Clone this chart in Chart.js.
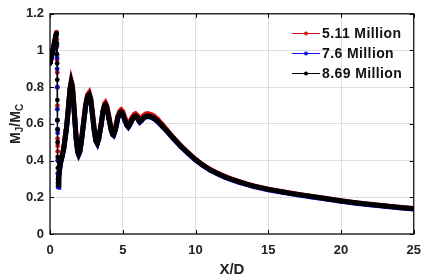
<!DOCTYPE html>
<html>
<head>
<meta charset="utf-8">
<script src="https://cdn.jsdelivr.net/npm/chart.js@4/dist/chart.umd.min.js"></script>
<style>
html,body{margin:0;padding:0;background:#fff;}
#c{display:block;}
</style>
</head>
<body>
<canvas id="c" width="430" height="276"></canvas>
<script>
const seriesLabels = ['5.11 Million', '7.6 Million', '8.69 Million'];
const xTicks = [0, 5, 10, 15, 20, 25];
const yTicks = [0, 0.2, 0.4, 0.6, 0.8, 1, 1.2];
const xLabel = 'X/D';

const xValues = [0, 0.1, 0.2, 0.3, 0.4, 0.45, 0.47, 0.48, 0.49, 0.5,
  0.505, 0.51, 0.52, 0.525, 0.53, 0.54, 0.55, 0.56, 0.6, 0.67,
  0.75, 0.85, 0.95, 1.05, 1.12, 1.2, 1.3, 1.38, 1.46, 1.54,
  1.62, 1.7, 1.8, 1.9, 1.97, 2.05, 2.15, 2.3, 2.45, 2.58,
  2.69, 2.8, 2.92, 3.05, 3.15, 3.25, 3.35, 3.5, 3.65, 3.75,
  3.81, 3.9, 4.05, 4.2, 4.3, 4.37, 4.5, 4.65, 4.8, 4.89,
  5.0, 5.15, 5.28, 5.38, 5.5, 5.65, 5.8, 5.88, 6.0, 6.1,
  6.17, 6.3, 6.45, 6.6, 6.75, 6.9, 7.05, 7.2, 7.4, 7.7,
  8.0, 8.5, 9.0, 9.5, 10, 10.5, 11, 11.5, 12, 12.5,
  13, 13.5, 14, 15, 16, 17, 18, 19, 20, 21,
  22, 23, 24, 25];

const redValues = [0.93, 0.967, 1.005, 1.045, 1.085, 1.10, 1.06, 1.02, 0.95, 0.88,
  0.80, 0.70, 0.52, 0.48, 0.45, 0.40, 0.33, 0.275, 0.315, 0.365,
  0.405, 0.435, 0.475, 0.535, 0.575, 0.635, 0.725, 0.795, 0.835, 0.81,
  0.73, 0.64, 0.525, 0.455, 0.44, 0.455, 0.505, 0.605, 0.705, 0.757,
  0.77, 0.74, 0.66, 0.565, 0.515, 0.50, 0.525, 0.595, 0.675, 0.708,
  0.715, 0.70, 0.64, 0.578, 0.553, 0.548, 0.578, 0.64, 0.67, 0.677,
  0.667, 0.632, 0.607, 0.597, 0.612, 0.637, 0.652, 0.655, 0.647, 0.632,
  0.624, 0.634, 0.647, 0.654, 0.655, 0.652, 0.647, 0.639, 0.625, 0.598,
  0.57, 0.523, 0.48, 0.442, 0.407, 0.377, 0.352, 0.332, 0.314, 0.299,
  0.285, 0.273, 0.262, 0.244, 0.23, 0.217, 0.205, 0.193, 0.181, 0.171,
  0.162, 0.154, 0.146, 0.139];

const blueValues = [0.928, 0.963, 0.998, 1.038, 1.078, 1.09, 1.03, 0.96, 0.90, 0.80,
  0.68, 0.62, 0.57, 0.55, 0.40, 0.33, 0.28, 0.255, 0.30, 0.355,
  0.395, 0.425, 0.465, 0.525, 0.565, 0.625, 0.715, 0.785, 0.82, 0.795,
  0.715, 0.625, 0.515, 0.447, 0.432, 0.447, 0.497, 0.597, 0.697, 0.747,
  0.757, 0.727, 0.647, 0.557, 0.507, 0.492, 0.517, 0.587, 0.667, 0.697,
  0.702, 0.687, 0.627, 0.567, 0.542, 0.537, 0.567, 0.627, 0.657, 0.662,
  0.652, 0.617, 0.592, 0.582, 0.597, 0.622, 0.637, 0.64, 0.632, 0.617,
  0.609, 0.619, 0.632, 0.639, 0.64, 0.637, 0.632, 0.625, 0.612, 0.587,
  0.563, 0.518, 0.476, 0.438, 0.403, 0.373, 0.348, 0.328, 0.31, 0.295,
  0.282, 0.27, 0.259, 0.241, 0.227, 0.214, 0.202, 0.19, 0.178, 0.168,
  0.159, 0.151, 0.143, 0.136];

const blackValues = [0.93, 0.965, 1.00, 1.04, 1.08, 1.095, 1.04, 0.98, 0.93, 0.84,
  0.73, 0.62, 0.57, 0.50, 0.42, 0.36, 0.30, 0.265, 0.31, 0.36,
  0.40, 0.43, 0.47, 0.53, 0.57, 0.63, 0.72, 0.79, 0.825, 0.80,
  0.72, 0.63, 0.52, 0.45, 0.435, 0.45, 0.50, 0.60, 0.70, 0.75,
  0.76, 0.73, 0.65, 0.56, 0.51, 0.495, 0.52, 0.59, 0.67, 0.70,
  0.705, 0.69, 0.63, 0.57, 0.545, 0.54, 0.57, 0.63, 0.66, 0.665,
  0.655, 0.62, 0.595, 0.585, 0.60, 0.625, 0.64, 0.643, 0.635, 0.62,
  0.612, 0.622, 0.635, 0.642, 0.643, 0.64, 0.635, 0.628, 0.615, 0.59,
  0.565, 0.52, 0.478, 0.44, 0.405, 0.375, 0.35, 0.33, 0.312, 0.297,
  0.284, 0.272, 0.261, 0.243, 0.229, 0.216, 0.204, 0.192, 0.18, 0.17,
  0.161, 0.153, 0.145, 0.138];

const seriesColors = ['#e01010', '#1010e8', '#000000'];

function toPoints(ys) { return xValues.map((x, i) => ({x: x, y: ys[i]})); }

const FONT = '"Liberation Sans", Arial, sans-serif';

function makeDataset(label, ys, color, order) {
  return {
    label: label,
    data: toPoints(ys),
    borderColor: color,
    backgroundColor: color,
    borderWidth: 5,
    pointRadius: 2.4,
    pointBorderWidth: 0,
    pointHoverRadius: 2.4,
    tension: 0,
    order: order,
    segment: {
      borderWidth: ctx => (ctx.p0.parsed.x >= 0.45 && ctx.p1.parsed.x <= 0.56) ? 1 : 5
    }
  };
}

const decorPlugin = {
  id: 'decor',
  afterDraw(chart) {
    const ctx = chart.ctx;
    const a = chart.chartArea;
    const xs = chart.scales.x, ys = chart.scales.y;
    ctx.save();
    ctx.strokeStyle = '#000';
    ctx.lineWidth = 1.2;
    ctx.strokeRect(a.left, a.top, a.right - a.left, a.bottom - a.top);
    ctx.lineWidth = 1;
    ctx.beginPath();
    xTicks.forEach(v => {
      const px = Math.round(xs.getPixelForValue(v)) + 0.5;
      ctx.moveTo(px, a.bottom); ctx.lineTo(px, a.bottom - 4);
      ctx.moveTo(px, a.top); ctx.lineTo(px, a.top + 4);
    });
    yTicks.forEach(v => {
      const py = Math.round(ys.getPixelForValue(v)) + 0.5;
      ctx.moveTo(a.left, py); ctx.lineTo(a.left + 4, py);
      ctx.moveTo(a.right, py); ctx.lineTo(a.right - 4, py);
    });
    ctx.stroke();

    ctx.fillStyle = '#222';
    ctx.font = 'bold 15px ' + FONT;
    ctx.textAlign = 'center';
    ctx.textBaseline = 'middle';
    ctx.fillText(xLabel, (a.left + a.right) / 2, 270);

    ctx.save();
    ctx.translate(15, (a.top + a.bottom) / 2);
    ctx.rotate(-Math.PI / 2);
    const parts = [
      {t: 'M', sub: false}, {t: 'J', sub: true}, {t: '/M', sub: false}, {t: 'C', sub: true}
    ];
    const big = 'bold 14px ' + FONT, small = 'bold 10px ' + FONT;
    let total = 0;
    parts.forEach(p => { ctx.font = p.sub ? small : big; p.w = ctx.measureText(p.t).width; total += p.w; });
    let cx = -total / 2;
    ctx.textAlign = 'left';
    ctx.textBaseline = 'alphabetic';
    parts.forEach(p => {
      ctx.font = p.sub ? small : big;
      ctx.fillText(p.t, cx, p.sub ? 8 : 5);
      cx += p.w;
    });
    ctx.restore();

    const rows = [33, 53, 73];
    chart.data.datasets.forEach((ds, i) => {
      const y = rows[i];
      ctx.strokeStyle = ds.borderColor;
      ctx.fillStyle = ds.borderColor;
      ctx.lineWidth = 1;
      ctx.beginPath();
      ctx.moveTo(292, y + 0.5); ctx.lineTo(320, y + 0.5);
      ctx.stroke();
      ctx.beginPath();
      ctx.arc(306, y + 0.5, 2, 0, Math.PI * 2);
      ctx.fill();
      ctx.fillStyle = '#111';
      ctx.font = 'bold 14px ' + FONT;
      ctx.textAlign = 'left';
      ctx.textBaseline = 'middle';
      try { ctx.letterSpacing = '0.4px'; } catch (e) {}
      ctx.fillText(ds.label, 322, y + 1);
      try { ctx.letterSpacing = '0px'; } catch (e) {}
    });
    ctx.restore();
  }
};

new Chart(document.getElementById('c'), {
  type: 'line',
  data: {
    datasets: [
      makeDataset(seriesLabels[0], redValues, seriesColors[0], 3),
      makeDataset(seriesLabels[1], blueValues, seriesColors[1], 2),
      makeDataset(seriesLabels[2], blackValues, seriesColors[2], 1)
    ]
  },
  options: {
    responsive: false,
    animation: false,
    devicePixelRatio: 1,
    layout: {padding: {top: 7.5, right: 8.5, left: 0, bottom: 0}},
    plugins: {legend: {display: false}, tooltip: {enabled: false}},
    scales: {
      x: {
        type: 'linear', min: 0, max: 25,
        afterBuildTicks: s => { s.ticks = xTicks.map(v => ({value: v})); },
        afterFit: s => { s.height = 42; },
        grid: {color: '#dedede', lineWidth: 1, drawTicks: false},
        border: {display: false},
        ticks: {font: {family: FONT, size: 13, weight: 'bold'}, color: '#222', padding: 9, maxRotation: 0}
      },
      y: {
        type: 'linear', min: 0, max: 1.2,
        afterBuildTicks: s => { s.ticks = yTicks.map(v => ({value: v})); },
        afterFit: s => { s.width = 50; },
        grid: {color: '#dedede', lineWidth: 1, drawTicks: false},
        border: {display: false},
        ticks: {font: {family: FONT, size: 13, weight: 'bold'}, color: '#222', padding: 6,
          callback: v => String(Math.round(v * 10) / 10)}
      }
    }
  },
  plugins: [decorPlugin]
});
</script>
</body>
</html>
